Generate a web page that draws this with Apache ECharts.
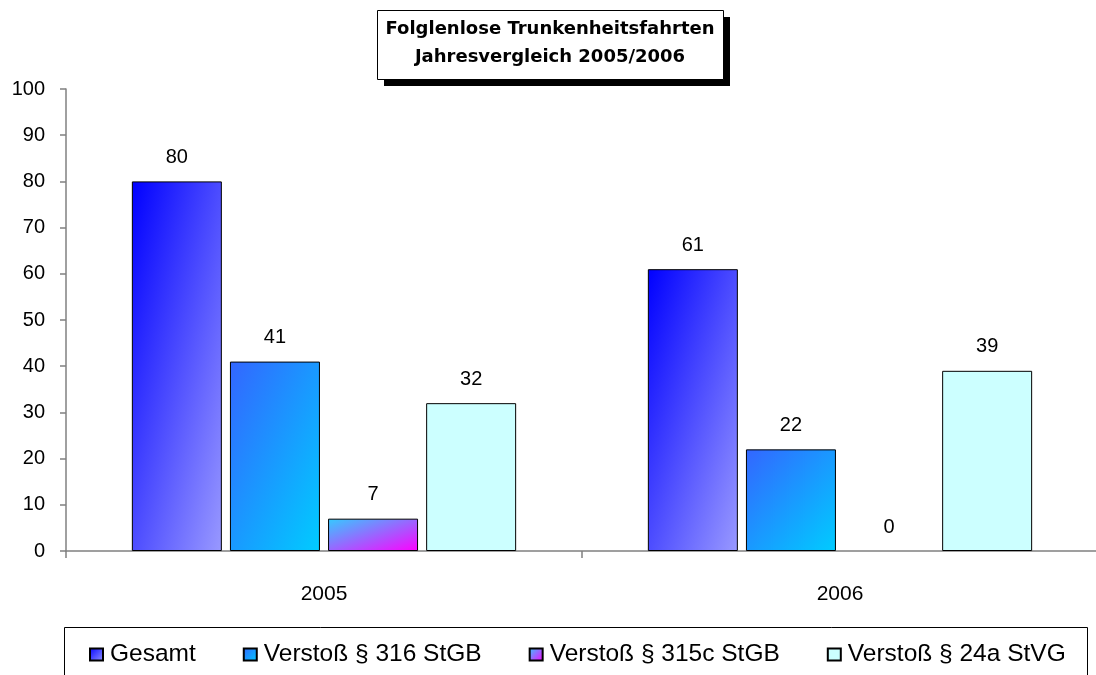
<!DOCTYPE html>
<html>
<head>
<meta charset="utf-8">
<title>Folglenlose Trunkenheitsfahrten</title>
<script src="https://cdn.jsdelivr.net/npm/echarts@6/dist/echarts.min.js"></script>
<style>
  html, body { margin: 0; padding: 0; background: #ffffff; }
  #chart { width: 1096px; height: 675px; }
</style>
</head>
<body>
<div id="chart"></div>
<script>
// Jahre auf der Kategorieachse
const categories = ['2005', '2006'];

// Reihennamen (Legende)
const seriesNames = ['Gesamt', 'Verstoß § 316 StGB', 'Verstoß § 315c StGB', 'Verstoß § 24a StVG'];

// Werte je Reihe, in der Reihenfolge der Jahre
const gesamt = [80, 61];
const verstoss316 = [41, 22];
const verstoss315c = [7, 0];
const verstoss24a = [32, 39];

// Werteachse
const yMin = 0;
const yMax = 100;
const yStep = 10;

// Titelzeilen
const titleLines = ['Folglenlose Trunkenheitsfahrten', 'Jahresvergleich 2005/2006'];

const FONT = '"Liberation Sans", Arial, sans-serif';
const TITLE_FONT = '"DejaVu Sans"';
const BAR_WIDTH = 90;

// Farbverläufe je Reihe: von links oben nach rechts unten
const palette = [
  ['#0000ff', '#9999ff'],
  ['#3366ff', '#00ccff'],
  ['#33ccff', '#ff00ff'],
  ['#ccffff', '#ccffff']
];
const values = [gesamt, verstoss316, verstoss315c, verstoss24a];

// Diagonaler Verlauf, normiert auf das Rechteck (w x h Pixel):
// gleiche Gewichtung von relativer x- und y-Position
function diagGradient(c0, c1, w, h) {
  w = Math.max(w, 1); h = Math.max(h, 1);
  const d = w * w + h * h;
  return {
    type: 'linear',
    x: 0, y: 0,
    x2: 2 * h * h / d,
    y2: 2 * w * w / d,
    colorStops: [{ offset: 0, color: c0 }, { offset: 1, color: c1 }]
  };
}

const chart = echarts.init(document.getElementById('chart'), null, { renderer: 'canvas' });

function buildSeries(pxPerUnit) {
  return seriesNames.map(function (name, i) {
    const c = palette[i];
    return {
      name: name,
      type: 'bar',
      barWidth: BAR_WIDTH,
      barGap: '9%',
      itemStyle: {
        color: diagGradient(c[0], c[1], 1, 1),
        borderColor: '#000000',
        borderWidth: 1
      },
      label: {
        show: true,
        position: 'top',
        distance: 14,
        color: '#000000',
        fontFamily: FONT,
        fontSize: 20
      },
      data: values[i].map(function (v) {
        return {
          value: v,
          itemStyle: {
            color: diagGradient(c[0], c[1], BAR_WIDTH, v * pxPerUnit),
            // ein Balken der Höhe 0 bekommt keinen Rahmen
            borderWidth: v === 0 ? 0 : 1
          }
        };
      })
    };
  });
}

function buildOption(pxPerUnit) {
  return {
    backgroundColor: '#ffffff',
    animation: false,
    grid: {
      left: 66,
      right: -2,
      top: 89,
      bottom: 124,
      outerBoundsMode: 'none'
    },
    xAxis: {
      type: 'category',
      data: categories,
      boundaryGap: true,
      axisLine: { show: true, lineStyle: { color: '#808080', width: 1.5 } },
      axisTick: { show: true, length: 7, interval: 0, lineStyle: { color: '#808080', width: 1.5 } },
      axisLabel: { color: '#000000', fontFamily: FONT, fontSize: 21, margin: 33 }
    },
    yAxis: {
      type: 'value',
      min: yMin,
      max: yMax,
      interval: yStep,
      splitLine: { show: false },
      axisLine: { show: true, lineStyle: { color: '#808080', width: 1.5 } },
      axisTick: { show: true, length: 6, lineStyle: { color: '#808080', width: 1.5 } },
      axisLabel: { color: '#000000', fontFamily: FONT, fontSize: 20, margin: 21 }
    },
    legend: {
      data: seriesNames,
      left: 89,
      top: 642,
      padding: 0,
      itemGap: 47,
      itemWidth: 13,
      itemHeight: 12,
      icon: 'rect',
      selectedMode: false,
      textStyle: { color: '#000000', fontFamily: FONT, fontSize: 24.5, padding: [0, 0, 0, 2] }
    },
    graphic: [
      // Legendenrahmen (läuft unten über den Rand hinaus)
      {
        type: 'rect', z: 0, silent: true,
        shape: { x: 64.5, y: 627.5, width: 1023, height: 80 },
        style: { fill: '#ffffff', stroke: '#000000', lineWidth: 1 }
      },
      // Titelkasten mit Schlagschatten
      {
        type: 'rect', z: 10, silent: true,
        shape: { x: 384, y: 17, width: 346, height: 69 },
        style: { fill: '#000000' }
      },
      {
        type: 'rect', z: 11, silent: true,
        shape: { x: 377.5, y: 10.5, width: 346, height: 69 },
        style: { fill: '#ffffff', stroke: '#000000', lineWidth: 1 }
      },
      {
        type: 'text', z: 12, silent: true,
        x: 550, y: 29,
        style: {
          text: titleLines[0], fill: '#000000',
          font: 'bold 18px ' + TITLE_FONT,
          align: 'center', verticalAlign: 'middle'
        }
      },
      {
        type: 'text', z: 12, silent: true,
        x: 550, y: 57,
        style: {
          text: titleLines[1], fill: '#000000',
          font: 'bold 18px ' + TITLE_FONT,
          align: 'center', verticalAlign: 'middle'
        }
      }
    ],
    series: buildSeries(pxPerUnit)
  };
}

// Erst zeichnen, dann den Maßstab der Werteachse ablesen und die Verläufe
// an die tatsächliche Balkenhöhe anpassen
chart.setOption(buildOption(4.62));
const y0 = chart.convertToPixel({ yAxisIndex: 0 }, yMin);
const y1 = chart.convertToPixel({ yAxisIndex: 0 }, yMax);
const pxPerUnit = Math.abs(y0 - y1) / (yMax - yMin);
chart.setOption({ series: buildSeries(pxPerUnit) });
</script>
</body>
</html>
